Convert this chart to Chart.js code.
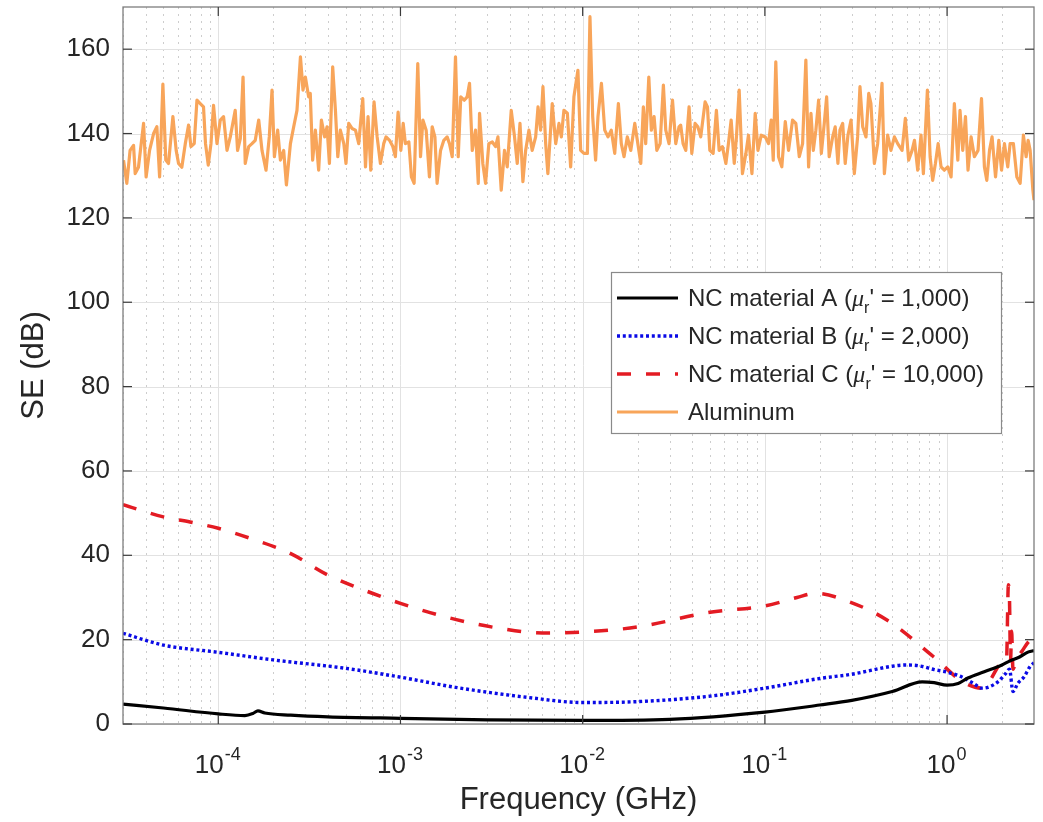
<!DOCTYPE html>
<html>
<head>
<meta charset="utf-8">
<script src="https://cdn.jsdelivr.net/npm/chart.js@4.4.1/dist/chart.umd.min.js"></script>
<style>
html,body{margin:0;padding:0;background:#fff;}
#wrap{width:1043px;height:822px;position:relative;}
canvas{display:block;}
</style>
</head>
<body>
<div id="wrap"><canvas id="c" width="1043" height="822"></canvas></div>
<script>
// ---------------- data ----------------
const seriesNames = ['NC material A', 'NC material B', 'NC material C', 'Aluminum'];
const seriesMu = ['1,000', '2,000', '10,000', null];

const xTickValues = [1e-4, 1e-3, 1e-2, 1e-1, 1];
const xTickExponents = ['-4', '-3', '-2', '-1', '0'];
const yTickValues = [0, 20, 40, 60, 80, 100, 120, 140, 160];

// NC material A (mu_r' = 1,000)
const freqA = [3e-5, 5e-5, 1e-4, 1.4e-4, 1.55e-4, 1.65e-4, 1.8e-4, 2.5e-4, 4e-4, 1e-3, 3e-3, 1e-2, 3e-2, 0.1, 0.2, 0.3, 0.5, 0.73, 0.85, 1.0, 1.15, 1.3, 1.6, 2.0, 2.2, 2.5, 2.8, 3.0];
const seA   = [4.7, 3.8, 2.4, 2.0, 2.5, 3.1, 2.6, 2.1, 1.7, 1.35, 1.0, 0.85, 1.1, 2.8, 4.5, 5.6, 7.7, 10.0, 9.8, 9.2, 9.6, 10.9, 12.4, 14.0, 14.9, 15.9, 17.1, 17.4];

// NC material B (mu_r' = 2,000)
const freqB = [3e-5, 5e-5, 1e-4, 2e-4, 5e-4, 1e-3, 2e-3, 5e-3, 1e-2, 2e-2, 5e-2, 0.1, 0.2, 0.3, 0.5, 0.6, 0.7, 0.85, 1.0, 1.2, 1.4, 1.55, 1.7, 1.9, 2.1, 2.2, 2.3, 2.45, 2.65, 2.85, 3.0];
const seB   = [21.5, 18.7, 17.0, 15.2, 13.2, 11.1, 8.7, 6.3, 5.1, 5.3, 6.6, 8.5, 10.8, 11.8, 13.7, 14.0, 13.8, 12.9, 12.3, 11.2, 9.6, 8.5, 8.8, 10.0, 12.0, 13.0, 7.7, 9.7, 11.2, 13.6, 14.5];

// NC material C (mu_r' = 10,000)
const freqC = [3e-5, 5e-5, 7e-5, 1e-4, 1.6e-4, 2.5e-4, 4e-4, 7e-4, 1e-3, 2e-3, 3.5e-3, 6e-3, 1e-2, 2e-2, 5e-2, 0.1, 0.15, 0.19, 0.29, 0.47, 0.84, 1.22, 1.55, 1.72, 2.0, 2.12, 2.17, 2.2, 2.23, 2.26, 2.3, 2.4, 2.6, 2.8, 3.0];
const seC   = [52.0, 49.1, 47.9, 46.4, 43.6, 40.4, 35.3, 31.0, 28.6, 24.8, 22.7, 21.6, 21.8, 23.0, 26.5, 28.0, 30.0, 31.0, 29.0, 24.6, 16.0, 10.0, 8.5, 10.4, 14.4, 15.0, 33.0, 30.0, 15.0, 22.0, 13.0, 15.2, 17.5, 19.5, 20.4];

// Aluminum: log10(frequency in GHz) and SE (dB)
const alLogFreq = [
-4.520,-4.502,-4.484,-4.465,-4.456,-4.438,-4.410,-4.396,-4.377,-4.355,-4.337,-4.322,-4.304,-4.288,-4.273,-4.249,-4.231,-4.218,-4.200,-4.181,
-4.163,-4.150,-4.132,-4.117,-4.099,-4.081,-4.070,-4.055,-4.040,-4.026,-4.007,-3.989,-3.971,-3.952,-3.934,-3.907,-3.894,-3.879,-3.864,-3.852,
-3.833,-3.815,-3.797,-3.778,-3.760,-3.738,-3.720,-3.705,-3.692,-3.674,-3.659,-3.641,-3.626,-3.604,-3.586,-3.568,-3.549,-3.535,-3.522,-3.504,
-3.495,-3.482,-3.467,-3.449,-3.434,-3.416,-3.403,-3.390,-3.372,-3.357,-3.344,-3.330,-3.311,-3.299,-3.284,-3.266,-3.247,-3.229,-3.207,-3.192,
-3.178,-3.163,-3.145,-3.128,-3.110,-3.092,-3.079,-3.060,-3.042,-3.028,-3.013,-2.998,-2.985,-2.973,-2.954,-2.940,-2.925,-2.905,-2.890,-2.877,
-2.859,-2.841,-2.826,-2.811,-2.799,-2.780,-2.762,-2.744,-2.731,-2.716,-2.698,-2.683,-2.669,-2.650,-2.634,-2.621,-2.606,-2.588,-2.573,-2.566,
-2.548,-2.533,-2.515,-2.496,
-2.478,-2.465,-2.447,-2.429,-2.414,-2.392,-2.374,-2.359,-2.344,-2.328,-2.313,-2.295,-2.277,-2.258,-2.245,-2.231,-2.218,-2.203,-2.191,-2.167,
-2.148,-2.130,-2.117,-2.103,-2.084,-2.066,-2.048,-2.026,-2.011,-1.993,-1.974,-1.960,-1.945,-1.929,-1.916,-1.897,-1.879,-1.861,-1.843,-1.824,
-1.804,-1.788,-1.773,-1.755,-1.736,-1.714,-1.700,-1.681,-1.667,-1.654,-1.637,-1.623,-1.608,-1.593,-1.575,-1.557,-1.544,-1.526,-1.507,-1.489,
-1.471,
-1.462,-1.449,-1.434,-1.416,-1.401,-1.383,-1.368,-1.352,-1.328,-1.315,-1.302,-1.284,-1.266,-1.251,-1.233,-1.214,-1.200,-1.185,-1.168,-1.156,
-1.141,-1.123,-1.104,-1.090,-1.071,-1.053,-1.038,-1.020,-0.998,-0.980,-0.965,-0.954,-0.940,-0.925,-0.907,-0.888,-0.870,-0.848,-0.830,-0.811,
-0.793,-0.775,-0.760,-0.747,-0.734,-0.720,-0.705,-0.690,-0.674,-0.661,-0.647,-0.628,-0.614,-0.599,-0.588,-0.573,-0.559,-0.544,-0.527,-0.509,
-0.491,-0.478,-0.463,
-0.445,-0.430,-0.418,-0.399,-0.381,-0.357,-0.344,-0.326,-0.308,-0.289,-0.271,-0.247,-0.229,-0.211,-0.192,-0.179,-0.161,-0.143,-0.130,-0.108,
-0.093,-0.079,-0.064,-0.049,-0.033,-0.015,0.004,0.022,0.040,0.059,0.071,0.086,0.101,0.115,0.132,0.150,0.170,0.189,0.205,0.218,
0.233,0.247,0.266,0.284,0.299,0.315,0.333,0.346,0.364,0.383,0.401,0.419,0.434,0.445,0.456,0.471,0.477
];
const seAl = [
133.7,128.2,136.0,137.2,130.5,132.0,142.4,129.7,136.0,140.0,141.6,129.7,151.7,133.7,132.9,144.0,136.0,132.9,132.0,137.6,
142.0,136.9,137.6,147.9,147.1,146.3,137.6,132.5,137.6,146.7,137.6,143.2,144.0,136.0,139.2,145.5,136.0,138.8,153.4,132.9,
136.9,137.6,138.4,143.2,136.0,131.3,139.2,150.3,134.5,140.8,133.7,136.0,127.8,137.6,141.6,145.5,158.2,150.3,153.4,148.7,
149.5,133.7,140.8,131.3,143.2,139.2,141.6,132.9,155.8,145.5,134.5,140.8,137.6,132.9,142.4,141.2,140.8,137.6,148.3,132.1,
144.0,131.3,147.5,139.2,132.9,137.6,139.2,138.4,136.9,134.5,145.1,136.0,142.4,137.6,138.0,129.7,128.2,156.6,134.5,143.2,
140.8,129.7,141.6,139.2,128.2,136.0,138.4,139.2,137.6,134.5,158.2,134.5,148.7,147.9,148.7,151.9,136.0,140.8,128.2,144.8,
132.9,128.2,137.6,138.0,
136.9,139.2,126.6,136.0,132.1,145.5,139.2,132.9,142.4,128.6,136.0,140.8,136.0,139.2,146.3,140.8,151.1,137.6,130.5,147.1,
137.6,142.4,139.2,145.5,144.8,132.1,148.7,155.0,136.0,135.3,135.3,167.7,144.0,133.7,144.0,151.9,140.8,139.2,140.8,135.3,
147.1,137.6,134.5,139.2,136.0,142.4,138.4,132.9,146.3,137.6,153.4,140.8,144.0,136.0,137.6,151.5,140.8,137.6,147.9,137.6,
141.6,
142.0,137.6,136.0,146.3,135.3,142.4,141.6,139.2,147.5,146.3,136.0,135.3,145.5,136.0,136.9,132.9,137.6,143.2,132.9,139.2,
150.3,130.5,135.3,139.6,130.5,144.8,136.0,139.6,139.2,137.6,143.2,133.7,157.0,134.5,132.1,142.8,136.0,143.2,142.4,134.5,
137.6,157.4,132.1,144.8,136.0,140.8,147.9,135.3,142.4,148.7,134.5,139.2,141.6,132.9,140.8,142.4,132.9,139.6,143.2,130.5,
139.2,151.1,141.6,
139.2,149.5,147.1,132.9,137.6,151.9,130.5,139.6,136.0,139.2,137.6,136.0,143.6,133.7,136.0,138.4,131.3,139.6,130.5,150.3,
134.5,128.9,132.9,137.6,132.1,131.3,132.1,129.7,147.1,133.7,145.5,136.0,144.0,131.3,139.2,134.5,136.0,148.3,132.1,128.9,
136.0,139.2,129.7,138.4,131.3,137.6,132.1,137.6,137.6,129.7,128.2,139.6,134.5,138.4,136.0,126.6,124.2
];

// ---------------- chart ----------------
const FONT = '"Liberation Sans", Arial, Helvetica, sans-serif';
const TXT = '#262626';
const toPts = (fx, fy) => fx.map((f, i) => ({x: f, y: fy[i]}));

const datasets = [
  {label: seriesNames[0], data: toPts(freqA, seA), borderColor: '#000000', borderWidth: 3.2, borderDash: [],
   cubicInterpolationMode: 'monotone'},
  {label: seriesNames[1], data: toPts(freqB, seB), borderColor: '#0a0ae6', borderWidth: 3.4, borderDash: [3, 2.8],
   cubicInterpolationMode: 'monotone'},
  {label: seriesNames[2], data: toPts(freqC, seC), borderColor: '#e31b23', borderWidth: 3.5, borderDash: [14, 15],
   cubicInterpolationMode: 'monotone'},
  {label: seriesNames[3], data: toPts(alLogFreq.map(e => Math.pow(10, e)), seAl), borderColor: '#f8a55a', borderWidth: 3.2, borderDash: [],
   tension: 0}
];

function line(ctx, x1, y1, x2, y2) { ctx.beginPath(); ctx.moveTo(x1, y1); ctx.lineTo(x2, y2); ctx.stroke(); }

const framePlugin = {
  id: 'frame',
  beforeDatasetsDraw(chart) {
    const {ctx, chartArea: a, scales: {x, y}} = chart;
    ctx.save();
    // minor vertical dotted grid
    ctx.strokeStyle = '#cdcdcd';
    ctx.lineWidth = 1;
    ctx.setLineDash([2, 5]);
    for (let d = -5; d <= 0; d++) {
      for (let m = 2; m <= 9; m++) {
        const v = m * Math.pow(10, d);
        if (v <= x.min || v >= x.max) continue;
        const px = Math.round(x.getPixelForValue(v)) + 0.5;
        line(ctx, px, a.top, px, a.bottom);
      }
    }
    ctx.setLineDash([]);
    // major grid
    ctx.strokeStyle = '#e2e2e2';
    xTickValues.forEach(v => { const px = Math.round(x.getPixelForValue(v)) + 0.5; line(ctx, px, a.top, px, a.bottom); });
    yTickValues.forEach(v => { const py = Math.round(y.getPixelForValue(v)) + 0.5; line(ctx, a.left, py, a.right, py); });
    ctx.restore();
  },
  afterDatasetsDraw(chart) {
    const {ctx, chartArea: a, scales: {x, y}} = chart;
    ctx.save();
    // box
    ctx.strokeStyle = '#7d7d7d';
    ctx.lineWidth = 1.3;
    ctx.strokeRect(a.left, a.top, a.right - a.left, a.bottom - a.top);
    // tick marks (inward)
    ctx.strokeStyle = '#3a3a3a';
    ctx.lineWidth = 1.2;
    const tl = 9;
    xTickValues.forEach(v => {
      const px = x.getPixelForValue(v);
      line(ctx, px, a.bottom, px, a.bottom - tl);
      line(ctx, px, a.top, px, a.top + tl);
    });
    yTickValues.forEach(v => {
      const py = y.getPixelForValue(v);
      line(ctx, a.left, py, a.left + tl, py);
      line(ctx, a.right, py, a.right - tl, py);
    });
    // x tick labels 10^n
    ctx.fillStyle = TXT;
    ctx.textBaseline = 'alphabetic';
    ctx.textAlign = 'left';
    const baseFont = '26px ' + FONT, expFont = '18px ' + FONT;
    xTickValues.forEach((v, i) => {
      const px = x.getPixelForValue(v);
      ctx.font = baseFont; const wb = ctx.measureText('10').width;
      ctx.font = expFont; const we = ctx.measureText(xTickExponents[i]).width;
      const x0 = px - (wb + we) / 2 - 1;
      ctx.font = baseFont; ctx.fillText('10', x0, 773);
      ctx.font = expFont; ctx.fillText(xTickExponents[i], x0 + wb + 1, 760);
    });
    // legend
    const L = {x: 611, y: 272, w: 390, h: 161};
    ctx.fillStyle = '#ffffff';
    ctx.fillRect(L.x, L.y, L.w, L.h);
    ctx.strokeStyle = '#8a8a8a';
    ctx.lineWidth = 1.2;
    ctx.strokeRect(L.x + 0.5, L.y + 0.5, L.w, L.h);
    const fs = 24;
    chart.data.datasets.forEach((ds, i) => {
      const ry = L.y + 26 + i * 38;
      ctx.save();
      ctx.strokeStyle = ds.borderColor;
      ctx.lineWidth = ds.borderWidth;
      ctx.setLineDash(ds.borderDash || []);
      line(ctx, L.x + 6, ry, L.x + 67, ry);
      ctx.restore();
      let tx = L.x + 77;
      const by = ry + 8;
      ctx.fillStyle = TXT;
      ctx.font = fs + 'px ' + FONT;
      if (seriesMu[i] === null) {
        ctx.fillText(seriesNames[i], tx, by);
      } else {
        const p1 = seriesNames[i] + ' (';
        ctx.fillText(p1, tx, by); tx += ctx.measureText(p1).width;
        ctx.font = 'italic ' + fs + 'px "Liberation Serif", "DejaVu Serif", serif';
        ctx.fillText('\u03BC', tx, by); tx += ctx.measureText('\u03BC').width;
        ctx.font = '16px ' + FONT;
        ctx.fillText('r', tx, by + 7); tx += ctx.measureText('r').width;
        ctx.font = fs + 'px ' + FONT;
        const p2 = "' = " + seriesMu[i] + ')';
        ctx.fillText(p2, tx, by);
      }
    });
    ctx.restore();
  }
};

new Chart(document.getElementById('c'), {
  type: 'line',
  data: {datasets},
  options: {
    responsive: false,
    animation: false,
    devicePixelRatio: 1,
    parsing: true,
    elements: {point: {radius: 0, hoverRadius: 0}, line: {fill: false, borderCapStyle: 'butt', borderJoinStyle: 'round'}},
    layout: {padding: {top: 7, right: 9, left: 0, bottom: 0}},
    plugins: {legend: {display: false}, title: {display: false}, tooltip: {enabled: false}},
    scales: {
      x: {
        type: 'logarithmic',
        min: 3e-5, max: 3,
        grid: {display: false, drawTicks: false},
        border: {display: false},
        ticks: {display: false},
        afterBuildTicks: s => { s.ticks = xTickValues.map(v => ({value: v, major: true})); },
        afterFit: s => { s.height = 98; s.paddingLeft = 0; s.paddingRight = 0; },
        title: {display: true, text: 'Frequency (GHz)', color: TXT, font: {family: FONT, size: 31}, padding: {top: 0, bottom: 3}}
      },
      y: {
        type: 'linear',
        min: 0, max: 170,
        grid: {display: false, drawTicks: false},
        border: {display: false},
        ticks: {color: TXT, font: {family: FONT, size: 26}, padding: 13},
        afterBuildTicks: s => { s.ticks = yTickValues.map(v => ({value: v})); },
        afterFit: s => { s.width = 123; s.paddingTop = 0; s.paddingBottom = 0; },
        title: {display: true, text: 'SE (dB)', color: TXT, font: {family: FONT, size: 31}, padding: {top: 16, bottom: 0}}
      }
    }
  },
  plugins: [framePlugin]
});
</script>
</body>
</html>
